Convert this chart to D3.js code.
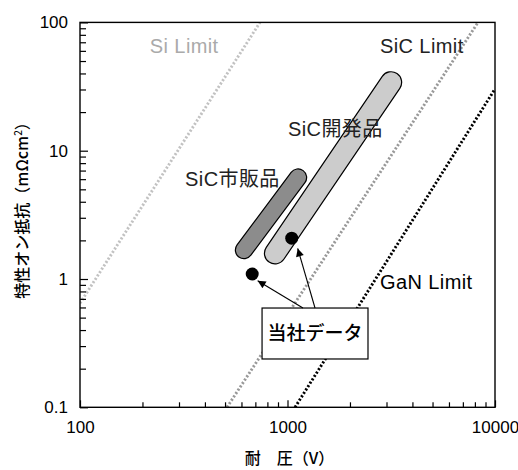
<!DOCTYPE html>
<html>
<head>
<meta charset="utf-8">
<script src="https://cdn.jsdelivr.net/npm/d3@7"></script>
<style>
  body { margin: 0; background: #fff; }
  svg { display: block; font-family: "Liberation Sans", Arial, "Noto Sans CJK JP", sans-serif; }
  .tick text { font-size: 17px; fill: #000; }
  .tick line { stroke: #000; stroke-width: 1.2; }
</style>
</head>
<body>
<div id="chart"></div>
<script>
(function() {

// axis ticks
const xTickValues = [100, 1000, 10000];
const xTickLabels = ["100", "1000", "10000"];
const yTickValues = [0.1, 1, 10, 100];
const yTickLabels = ["0.1", "1", "10", "100"];

// theoretical limits: [V, mOhm cm2] end points
const limitNames = ["Si Limit", "SiC Limit", "GaN Limit"];
const limitStart = [[100, 0.647], [511, 0.1], [1087, 0.1]];
const limitEnd = [[737, 100], [8279, 100], [10000, 30.3]];

// product ranges (capsules)
const bandNames = ["SiC市販品", "SiC開発品"];
const bandStart = [[617, 1.68], [871, 1.585]];
const bandEnd = [[1124, 6.18], [3155, 34.1]];

// our data points
const ourVoltage = [676, 1048];
const ourResist = [1.094, 2.08];
const calloutText = "当社データ";

let margin = {top: 22.4, right: 23, bottom: 62.7, left: 80};
let width = 518 - margin.left - margin.right;
let height = 470 - margin.top - margin.bottom;

let xScale = d3.scaleLog().domain([100, 10000]).range([0, width]);
let yScale = d3.scaleLog().domain([0.1, 100]).range([height, 0]);

let svg = d3.select("#chart").append("svg")
    .attr("width", 518)
    .attr("height", 470);

svg.append("defs").append("marker")
    .attr("id", "arrow")
    .attr("viewBox", "0 0 10 10")
    .attr("refX", 10).attr("refY", 5)
    .attr("markerWidth", 11).attr("markerHeight", 8)
    .attr("markerUnits", "userSpaceOnUse")
    .attr("orient", "auto")
  .append("path")
    .attr("d", "M0,0L10,5L0,10z")
    .attr("fill", "#000");

let g = svg.append("g")
    .attr("transform", "translate(" + margin.left + "," + margin.top + ")");

g.append("clipPath").attr("id", "plotclip")
  .append("rect").attr("width", width).attr("height", height);

let plot = g.append("g").attr("clip-path", "url(#plotclip)");

// limit lines
let limitColor = ["#c2c2c2", "#999999", "#000"];
limitNames.forEach((name, i) => {
    plot.append("line")
        .attr("x1", xScale(limitStart[i][0])).attr("y1", yScale(limitStart[i][1]))
        .attr("x2", xScale(limitEnd[i][0])).attr("y2", yScale(limitEnd[i][1]))
        .attr("stroke", limitColor[i])
        .attr("stroke-width", 2.9)
        .attr("stroke-dasharray", "2.1,1.9");
});

// capsules
let bandFill = ["#8c8c8c", "#cccccc"];
let bandRadius = [8, 10];
bandNames.forEach((name, i) => {
    let x1 = xScale(bandStart[i][0]), y1 = yScale(bandStart[i][1]);
    let x2 = xScale(bandEnd[i][0]), y2 = yScale(bandEnd[i][1]);
    plot.append("line")
        .attr("x1", x1).attr("y1", y1).attr("x2", x2).attr("y2", y2)
        .attr("stroke", "#000")
        .attr("stroke-width", bandRadius[i] * 2 + 2.4)
        .attr("stroke-linecap", "round");
    plot.append("line")
        .attr("x1", x1).attr("y1", y1).attr("x2", x2).attr("y2", y2)
        .attr("stroke", bandFill[i])
        .attr("stroke-width", bandRadius[i] * 2)
        .attr("stroke-linecap", "round");
});

// callout box (data coords)
let box = {x0: 754, x1: 2443, y0: 0.594, y1: 0.238};
plot.append("rect")
    .attr("x", xScale(box.x0))
    .attr("y", yScale(box.y0))
    .attr("width", xScale(box.x1) - xScale(box.x0))
    .attr("height", yScale(box.y1) - yScale(box.y0))
    .attr("fill", "#fff")
    .attr("stroke", "#000")
    .attr("stroke-width", 1.2);

plot.append("text")
    .attr("x", (xScale(box.x0) + xScale(box.x1)) / 2)
    .attr("y", (yScale(box.y0) + yScale(box.y1)) / 2)
    .attr("dy", "0.36em")
    .attr("text-anchor", "middle")
    .style("font-family", "'Noto Sans CJK JP', sans-serif")
    .style("font-size", "19px")
    .style("font-weight", 500)
    .text(calloutText);

// arrows from box to points
let arrowTail = [[1187, 0.594], [1357, 0.594]];
let arrowTip = [[718, 0.97], [1120, 1.73]];
arrowTail.forEach((t, i) => {
    plot.append("line")
        .attr("x1", xScale(t[0])).attr("y1", yScale(t[1]))
        .attr("x2", xScale(arrowTip[i][0])).attr("y2", yScale(arrowTip[i][1]))
        .attr("stroke", "#000")
        .attr("stroke-width", 1.1)
        .attr("marker-end", "url(#arrow)");
});

// our points
ourVoltage.forEach((v, i) => {
    plot.append("circle")
        .attr("cx", xScale(v))
        .attr("cy", yScale(ourResist[i]))
        .attr("r", 6.5)
        .attr("fill", "#000");
});

// labels
let labelAt = [
    {text: limitNames[0], x: 217, y: 57.7, color: "#aaa"},
    {text: limitNames[1], x: 2791, y: 57.7, color: "#222"},
    {text: limitNames[2], x: 2791, y: 0.836, color: "#000"},
    {text: bandNames[0], x: 321, y: 5.31, color: "#222"},
    {text: bandNames[1], x: 1006, y: 13.0, color: "#222"}
];
labelAt.forEach((l) => {
    g.append("text")
        .attr("x", xScale(l.x))
        .attr("y", yScale(l.y))
        .attr("fill", l.color)
        .style("font-size", "20px")
        .style("letter-spacing", "0.4px")
        .text(l.text);
});

// axes, ticks pointing inward
let xMinor = xScale.ticks().filter((d) => xTickValues.indexOf(d) < 0);
let yMinor = yScale.ticks().filter((d) => yTickValues.map(String).indexOf(String(+d.toPrecision(3))) < 0);

g.append("g")
    .attr("transform", "translate(0," + height + ")")
    .call(d3.axisBottom(xScale).tickValues(xMinor).tickSize(-5).tickFormat(""))
    .call((a) => a.select(".domain").remove());
g.append("g")
    .attr("transform", "translate(0," + height + ")")
    .call(d3.axisBottom(xScale).tickValues(xTickValues).tickSize(-7).tickPadding(14)
        .tickFormat((d, i) => xTickLabels[i]))
    .call((a) => a.select(".domain").remove());

g.append("g")
    .call(d3.axisLeft(yScale).tickValues(yMinor).tickSize(-6).tickFormat(""))
    .call((a) => a.select(".domain").remove());
g.append("g")
    .call(d3.axisLeft(yScale).tickValues(yTickValues).tickSize(-8).tickPadding(12)
        .tickFormat((d, i) => yTickLabels[i]))
    .call((a) => a.select(".domain").remove());

g.selectAll(".tick text").attr("font-family", null).attr("font-size", null);

// frame
g.append("rect")
    .attr("width", width).attr("height", height)
    .attr("fill", "none")
    .attr("stroke", "#000")
    .attr("stroke-width", 1.4);

// axis titles
g.append("text")
    .attr("x", width / 2 + 2)
    .attr("y", height + 57)
    .attr("text-anchor", "middle")
    .style("font-family", "'Noto Sans CJK JP', sans-serif")
    .style("font-size", "16px")
    .style("font-weight", 500)
    .text("耐　圧（V）");

g.append("text")
    .attr("transform", "translate(" + (-52) + "," + (184) + ") rotate(-90)")
    .attr("text-anchor", "middle")
    .style("font-family", "'Noto Sans CJK JP', sans-serif")
    .style("font-size", "16px")
    .style("font-weight", 500)
    .html("特性オン抵抗（mΩcm<tspan dy='-6' font-size='10px'>2</tspan><tspan dy='6'>）</tspan>");

})();
</script>
</body>
</html>
